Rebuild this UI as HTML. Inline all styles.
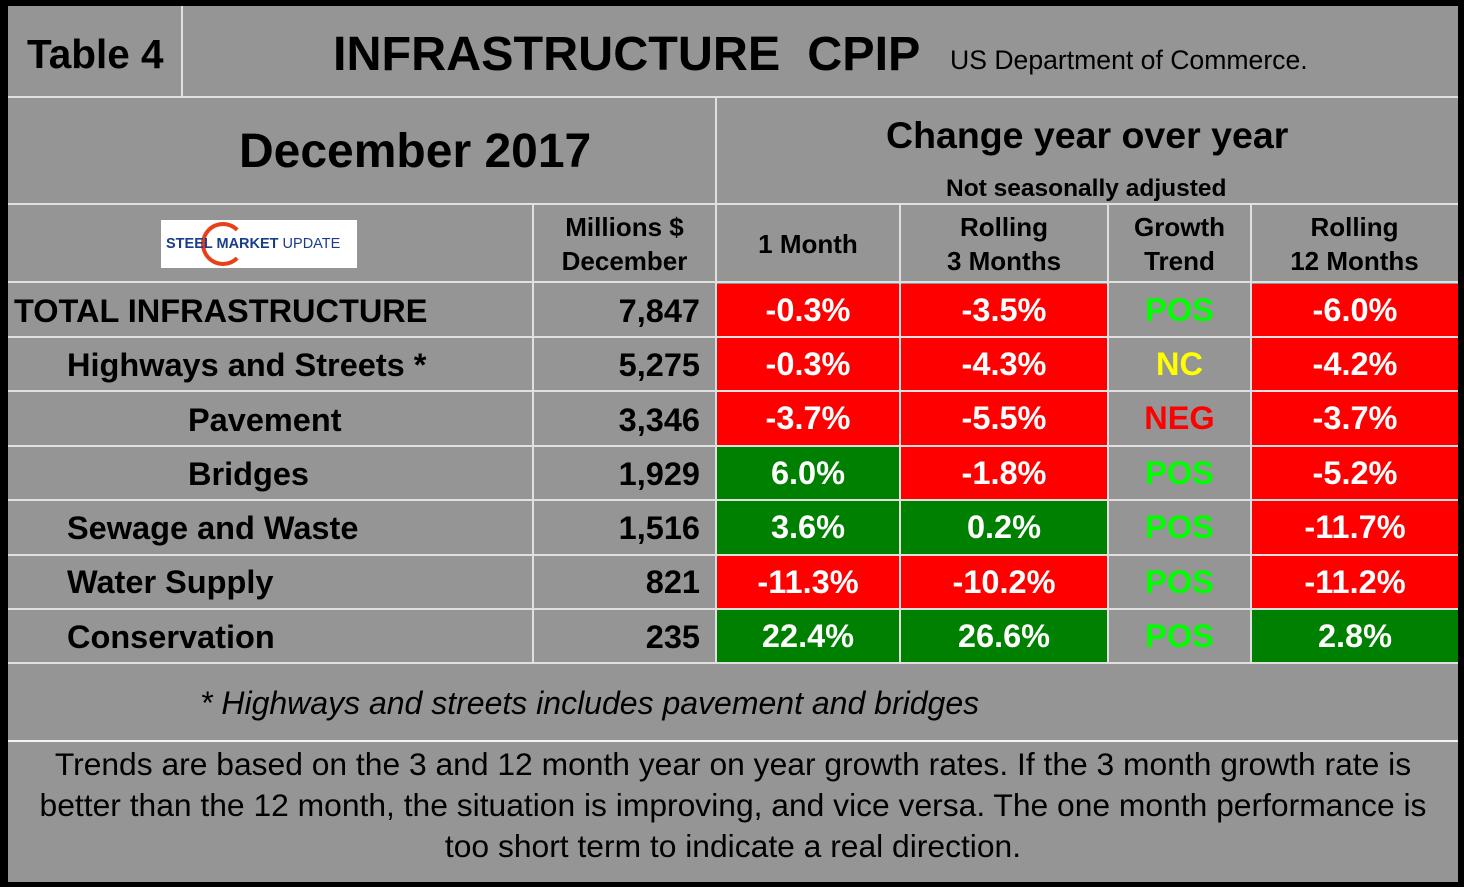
<!DOCTYPE html>
<html><head><style>
body{margin:0;width:1464px;height:887px;background:#000;overflow:hidden;font-family:"Liberation Sans",Arial,sans-serif;}
.bg{position:absolute;left:8px;top:6px;width:1450px;height:876px;background:#959595;}
.h{position:absolute;height:2px;background:#e0e0e0;}
.v{position:absolute;width:2px;background:#e0e0e0;}
.t{position:absolute;font-weight:bold;white-space:nowrap;line-height:1;}
.c{position:absolute;display:flex;align-items:center;justify-content:center;font-weight:bold;font-size:32.5px;color:#fff;}
.r{background:#ff0000}.g{background:#008000}
.lab{position:absolute;font-weight:bold;font-size:32.5px;color:#000;line-height:1;white-space:nowrap;}
.num{position:absolute;right:764px;font-weight:bold;font-size:32.5px;line-height:1;}
.hd{font-size:26px;line-height:34px;}
</style></head><body>
<div class="bg"></div>
<div class="h" style="left:8px;top:96px;width:1450px"></div>
<div class="h" style="left:8px;top:203px;width:1450px"></div>
<div class="h" style="left:8px;top:281px;width:1450px"></div>
<div class="h" style="left:8px;top:336px;width:1450px"></div>
<div class="h" style="left:8px;top:390px;width:1450px"></div>
<div class="h" style="left:8px;top:445px;width:1450px"></div>
<div class="h" style="left:8px;top:499px;width:1450px"></div>
<div class="h" style="left:8px;top:554px;width:1450px"></div>
<div class="h" style="left:8px;top:608px;width:1450px"></div>
<div class="h" style="left:8px;top:662px;width:1450px"></div>
<div class="h" style="left:8px;top:740px;width:1450px;background:#f4f4f4"></div>
<div class="v" style="left:181px;top:6px;height:91px"></div>
<div class="v" style="left:715px;top:97px;height:566px"></div>
<div class="v" style="left:532px;top:204px;height:459px"></div>
<div class="v" style="left:899px;top:204px;height:459px"></div>
<div class="v" style="left:1107px;top:204px;height:459px"></div>
<div class="v" style="left:1250px;top:204px;height:459px"></div>

<div class="t" style="left:27px;top:34px;font-size:40.5px">Table 4</div>
<div class="t" style="left:333px;top:30px;font-size:48.5px">INFRASTRUCTURE&nbsp; CPIP</div>
<div class="t" style="left:950px;top:47px;font-size:26.6px;font-weight:normal">US Department of Commerce.</div>
<div class="t" style="left:239px;top:128px;font-size:48px">December 2017</div>
<div class="t" style="left:886px;top:117px;font-size:37.5px">Change year over year</div>
<div class="t" style="left:946px;top:177px;font-size:24.5px">Not seasonally adjusted</div>

<div style="position:absolute;left:161px;top:220px;width:196px;height:48px;background:#fff;">
<div style="position:absolute;left:40px;top:2px;width:44px;height:44px;border-radius:50%;border:4px solid #e8401a;border-right-color:transparent;box-sizing:border-box;"></div>
<div style="position:absolute;left:5px;top:16px;font-size:14.5px;font-weight:bold;color:#1a3d8c;white-space:nowrap">STEEL MARKET <span style="font-weight:normal">UPDATE</span></div>
</div>

<div class="t hd" style="left:533px;top:210px;width:183px;text-align:center">Millions $<br>December</div>
<div class="t hd" style="left:716px;top:227px;width:184px;text-align:center">1 Month</div>
<div class="t hd" style="left:900px;top:210px;width:208px;text-align:center">Rolling<br>3 Months</div>
<div class="t hd" style="left:1108px;top:210px;width:143px;text-align:center">Growth<br>Trend</div>
<div class="t hd" style="left:1251px;top:210px;width:207px;text-align:center">Rolling<br>12 Months</div>

<div class="lab" style="left:14px;top:295px">TOTAL INFRASTRUCTURE</div>
<div class="lab" style="left:67px;top:349px">Highways and Streets *</div>
<div class="lab" style="left:188px;top:404px">Pavement</div>
<div class="lab" style="left:188px;top:458px">Bridges</div>
<div class="lab" style="left:67px;top:512px">Sewage and Waste</div>
<div class="lab" style="left:67px;top:566px">Water Supply</div>
<div class="lab" style="left:67px;top:621px">Conservation</div>
<div class="num" style="top:295px">7,847</div>
<div class="num" style="top:349px">5,275</div>
<div class="num" style="top:404px">3,346</div>
<div class="num" style="top:458px">1,929</div>
<div class="num" style="top:512px">1,516</div>
<div class="num" style="top:566px">821</div>
<div class="num" style="top:621px">235</div>

<div class="c r" style="left:717px;top:284px;width:182px;height:52px">-0.3%</div>
<div class="c r" style="left:901px;top:284px;width:206px;height:52px">-3.5%</div>
<div class="c" style="left:1109px;top:284px;width:141px;height:52px;color:#00ff00">POS</div>
<div class="c r" style="left:1252px;top:284px;width:206px;height:52px">-6.0%</div>

<div class="c r" style="left:717px;top:338px;width:182px;height:52px">-0.3%</div>
<div class="c r" style="left:901px;top:338px;width:206px;height:52px">-4.3%</div>
<div class="c" style="left:1109px;top:338px;width:141px;height:52px;color:#ffff00">NC</div>
<div class="c r" style="left:1252px;top:338px;width:206px;height:52px">-4.2%</div>

<div class="c r" style="left:717px;top:392px;width:182px;height:53px">-3.7%</div>
<div class="c r" style="left:901px;top:392px;width:206px;height:53px">-5.5%</div>
<div class="c" style="left:1109px;top:392px;width:141px;height:53px;color:#ff0000">NEG</div>
<div class="c r" style="left:1252px;top:392px;width:206px;height:53px">-3.7%</div>

<div class="c g" style="left:717px;top:447px;width:182px;height:52px">6.0%</div>
<div class="c r" style="left:901px;top:447px;width:206px;height:52px">-1.8%</div>
<div class="c" style="left:1109px;top:447px;width:141px;height:52px;color:#00ff00">POS</div>
<div class="c r" style="left:1252px;top:447px;width:206px;height:52px">-5.2%</div>

<div class="c g" style="left:717px;top:501px;width:182px;height:53px">3.6%</div>
<div class="c g" style="left:901px;top:501px;width:206px;height:53px">0.2%</div>
<div class="c" style="left:1109px;top:501px;width:141px;height:53px;color:#00ff00">POS</div>
<div class="c r" style="left:1252px;top:501px;width:206px;height:53px">-11.7%</div>

<div class="c r" style="left:717px;top:556px;width:182px;height:52px">-11.3%</div>
<div class="c r" style="left:901px;top:556px;width:206px;height:52px">-10.2%</div>
<div class="c" style="left:1109px;top:556px;width:141px;height:52px;color:#00ff00">POS</div>
<div class="c r" style="left:1252px;top:556px;width:206px;height:52px">-11.2%</div>

<div class="c g" style="left:717px;top:610px;width:182px;height:52px">22.4%</div>
<div class="c g" style="left:901px;top:610px;width:206px;height:52px">26.6%</div>
<div class="c" style="left:1109px;top:610px;width:141px;height:52px;color:#00ff00">POS</div>
<div class="c g" style="left:1252px;top:610px;width:206px;height:52px">2.8%</div>

<div class="t" style="left:200px;top:687px;font-size:32px;font-weight:normal;font-style:italic">* Highways and streets includes pavement and bridges</div>
<div style="position:absolute;left:8px;top:744px;width:1450px;text-align:center;font-size:31.8px;line-height:41px;color:#000;white-space:nowrap">Trends are based on the 3 and 12 month year on year growth rates. If the 3 month growth rate is<br>better than the 12 month, the situation is improving, and vice versa. The one month performance is<br>too short term to indicate a real direction.</div>
</body></html>
